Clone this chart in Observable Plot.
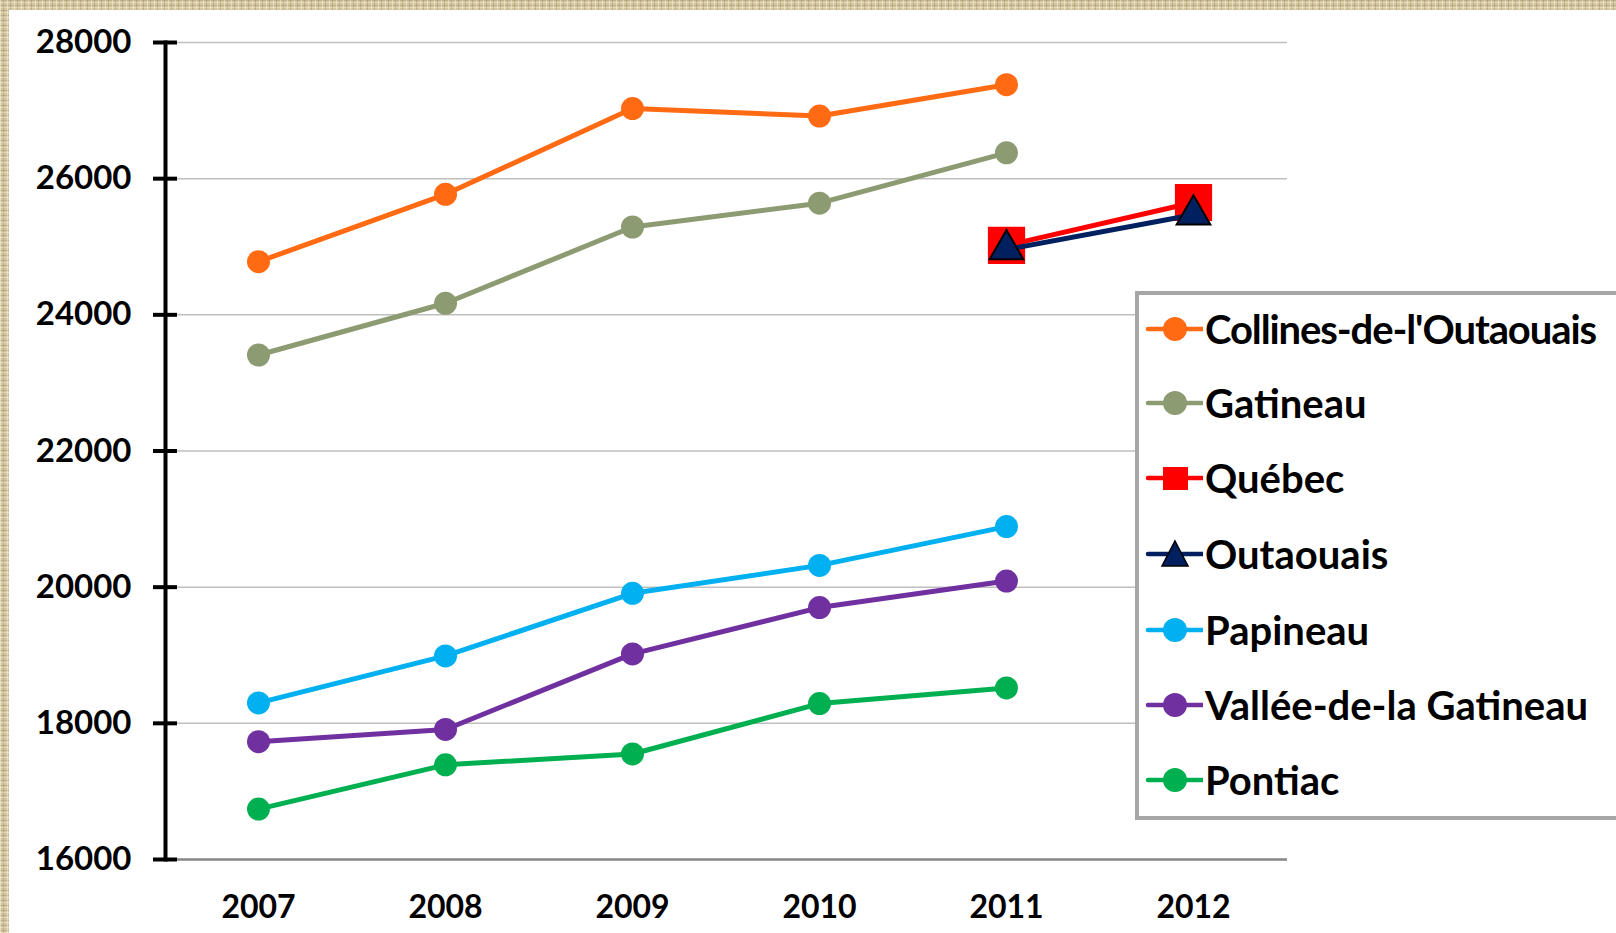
<!DOCTYPE html>
<html><head><meta charset="utf-8">
<script src="https://cdn.jsdelivr.net/npm/d3@7"></script>
<script src="https://cdn.jsdelivr.net/npm/@observablehq/plot@0.6"></script>
<style>
html,body{margin:0;padding:0;width:1616px;height:933px;overflow:hidden;}
body{position:relative;background-color:#d4c6a0;
 background-image:
  repeating-linear-gradient(90deg, rgba(255,250,230,.45) 0 1px, transparent 1px 3px, rgba(110,90,50,.22) 3px 4px, transparent 4px 7px),
  repeating-linear-gradient(0deg, rgba(255,250,230,.35) 0 1px, transparent 1px 2px, rgba(110,90,50,.2) 2px 3px, transparent 3px 5px);}
#panel{position:absolute;left:9px;top:10px;right:0;bottom:0;background:#fff;}
#chart{position:absolute;left:0;top:0;}
#legend{position:absolute;left:1135px;top:291px;width:620px;height:529px;box-sizing:border-box;border:4px solid #a6a6a6;background:#fff;font-family:Lato,sans-serif;font-weight:bold;font-size:40px;color:#000;}
.row{position:absolute;left:6px;height:40px;display:flex;align-items:center;white-space:nowrap;}
.row svg{display:block;margin-right:2px;}
</style></head>
<body>
<div id="panel"></div>
<div id="chart"></div>
<div id="legend"></div>
<script>
const years = [2007, 2008, 2009, 2010, 2011, 2012];
const collines  = [24780, 25770, 27030, 26920, 27380, null];
const gatineau  = [23410, 24170, 25290, 25640, 26380, null];
const quebec    = [null, null, null, null, 25020, 25650];
const outaouais = [null, null, null, null, 24960, 25470];
const papineau  = [18300, 18990, 19910, 20320, 20890, null];
const vallee    = [17730, 17910, 19020, 19700, 20090, null];
const pontiac   = [16740, 17390, 17550, 18290, 18520, null];
const yTicks = [16000, 18000, 20000, 22000, 24000, 26000, 28000];

const seriesNames = ["Collines-de-l'Outaouais", "Gatineau", "Québec", "Outaouais", "Papineau", "Vallée-de-la Gatineau", "Pontiac"];
const seriesValues = [collines, gatineau, quebec, outaouais, papineau, vallee, pontiac];
const seriesColors = ["#ff6a13", "#8c9b72", "#ff0000", "#002060", "#00b0f0", "#7030a0", "#00b050"];
const seriesSymbols = ["circle", "circle", "square", "triangle", "circle", "circle", "circle"];

const symbolR = {circle: 11.5, square: 21, triangle: 12.5};

const marks = [
  Plot.ruleY(yTicks.filter(d => d > 16000), {stroke: "#bfbfbf", strokeWidth: 1.5}),
  Plot.ruleY([16000], {stroke: "#868686", strokeWidth: 2.5}),
];
seriesNames.forEach((name, i) => {
  const rows = years.map((year, j) => ({series: name, year: String(year), value: seriesValues[i][j]}))
    .filter(d => d.value != null);
  marks.push(Plot.line(rows, {x: "year", y: "value", stroke: seriesColors[i], strokeWidth: 5}));
  marks.push(Plot.dot(rows, {
    x: "year", y: "value", symbol: seriesSymbols[i], r: symbolR[seriesSymbols[i]],
    fill: seriesColors[i],
    stroke: seriesSymbols[i] === "triangle" ? "#000" : "none",
    strokeWidth: 2
  }));
});
marks.push(Plot.frame({anchor: "left", stroke: "#000", strokeWidth: 4, dx: 2}));
marks.push(Plot.axisY({ticks: yTicks, tickSize: 24, dx: 14, tickPadding: 22, strokeWidth: 4, fontSize: 33, fontWeight: "bold", tickFormat: d => String(d), label: null}));
marks.push(Plot.axisX({tickSize: 0, tickPadding: 36, fontSize: 32, fontWeight: "bold", label: null}));

const chart = Plot.plot({
  width: 1616, height: 933,
  marginLeft: 163, marginRight: 329, marginTop: 42, marginBottom: 74,
  style: {fontFamily: "Lato, sans-serif", fontWeight: "bold", background: "transparent", color: "#000", overflow: "visible"},
  x: {type: "point", domain: years.map(String), padding: 0.5},
  y: {domain: [16000, 28000]},
  marks
});
document.getElementById("chart").appendChild(chart);

// legend
const legend = d3.select("#legend");
const rowCenters = [329, 403, 478, 554, 630, 705, 780];
seriesNames.forEach((name, i) => {
  const row = legend.append("div").attr("class", "row").style("top", (rowCenters[i] - 291 - 4 - 20) + "px");
  const s = row.append("svg").attr("width", 58).attr("height", 40);
  s.append("line").attr("x1", 3).attr("x2", 58).attr("y1", 20).attr("y2", 20)
    .attr("stroke", seriesColors[i]).attr("stroke-width", 4.5).attr("stroke-linecap", "round");
  const sym = seriesSymbols[i];
  if (sym === "circle") {
    s.append("circle").attr("cx", 30).attr("cy", 20).attr("r", 12).attr("fill", seriesColors[i]);
  } else if (sym === "square") {
    s.append("rect").attr("x", 18).attr("y", 9).attr("width", 25).attr("height", 23).attr("fill", seriesColors[i]);
  } else {
    s.append("path").attr("d", "M30,7 L43,32 L17,32 Z").attr("fill", seriesColors[i]).attr("stroke", "#000").attr("stroke-width", 1.5);
  }
  const span = row.append("span").text(name);
  if (i === 0) span.style("letter-spacing", "-1.1px");
});
</script>
</body></html>
